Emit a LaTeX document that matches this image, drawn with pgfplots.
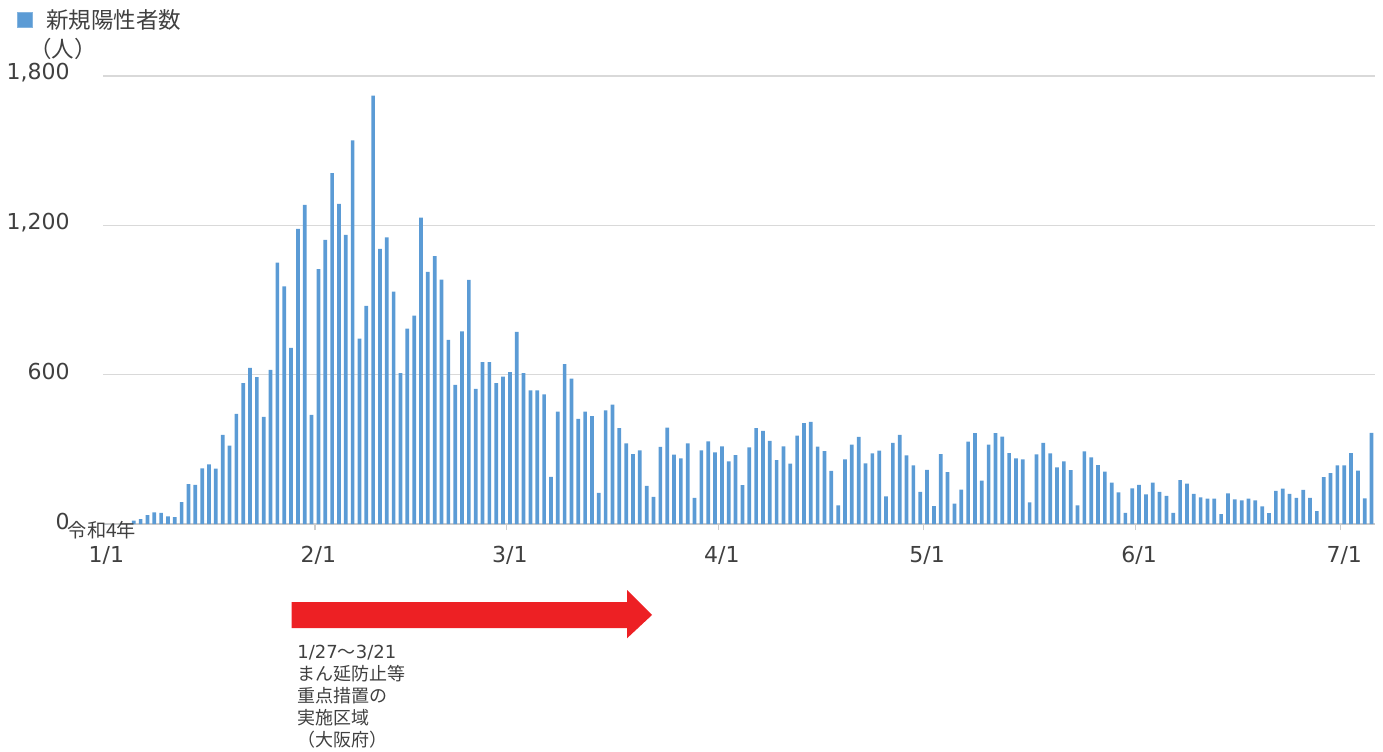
\documentclass[border=0pt]{standalone}
\usepackage{pgfplots}
\pgfplotsset{compat=1.18}
\usepackage{pgfplotstable}
\usepackage{fontspec}
\setmainfont{DejaVu Sans}
\newfontfamily\cjk{Noto Sans CJK JP}
\definecolor{barblue}{RGB}{91,155,213}
\definecolor{gridgray}{RGB}{217,217,217}
\definecolor{axisgray}{RGB}{204,204,204}
\definecolor{arrowred}{RGB}{237,32,36}
\definecolor{txt}{RGB}{64,64,64}

\pgfplotstableread{
d v
0 0
1 0
2 0
3 0
4 14
5 20
6 36
7 47
8 45
9 31
10 28
11 88
12 160
13 157
14 224
15 240
16 222
17 358
18 315
19 442
20 566
21 627
22 590
23 430
24 619
25 1050
26 955
27 708
28 1186
29 1282
30 438
31 1024
32 1142
33 1410
34 1286
35 1162
36 1541
37 745
38 876
39 1721
40 1105
41 1152
42 934
43 606
44 785
45 837
46 1231
47 1013
48 1076
49 982
50 740
51 559
52 774
53 981
54 543
55 650
56 650
57 566
58 592
59 610
60 772
61 606
62 537
63 537
64 521
65 189
66 452
67 642
68 584
69 422
70 452
71 433
72 125
73 457
74 480
75 385
76 324
77 281
78 296
79 153
80 109
81 310
82 387
83 279
84 264
85 324
86 105
87 296
88 332
89 288
90 312
91 252
92 277
93 156
94 308
95 385
96 374
97 334
98 257
99 312
100 243
101 355
102 405
103 410
104 311
105 293
106 213
107 75
108 260
109 319
110 350
111 244
112 284
113 295
114 111
115 326
116 358
117 276
118 236
119 129
120 217
121 72
122 281
123 208
124 82
125 138
126 331
127 365
128 174
129 319
130 365
131 351
132 285
133 264
134 260
135 87
136 280
137 326
138 284
139 228
140 252
141 216
142 75
143 292
144 268
145 237
146 210
147 166
148 127
149 45
150 143
151 157
152 119
153 166
154 129
155 113
156 45
157 176
158 162
159 121
160 107
161 102
162 102
163 40
164 123
165 99
166 95
167 102
168 95
169 71
170 44
171 133
172 142
173 121
174 105
175 137
176 105
177 52
178 188
179 204
180 236
181 236
182 285
183 214
184 103
185 366
}\cases

\begin{document}
\begin{tikzpicture}
\useasboundingbox (0,0) rectangle (691.5pt,375.5pt);
\begin{axis}[
  at={(51.5pt,113.5pt)}, anchor=south west,
  scale only axis, width=636pt, height=224pt,
  xmin=-0.5, xmax=185.5, ymin=0, ymax=1800,
  ybar, bar width=0.54,
  axis line style={draw=none},
  ytick={600,1200,1800},
  extra y ticks={0},
  extra y tick style={grid=major, grid style={color=axisgray, line width=0.8pt}},
  ymajorgrids, grid style={color=gridgray, line width=0.75pt},
  major tick length=0pt,
  xtick={0,31,59,90,120,151,181},
  xticklabels={1/1,2/1,3/1,4/1,5/1,6/1,7/1},
  extra x ticks={30.5,58.5,89.5,119.5,150.5,180.5},
  extra x tick labels={},
  extra x tick style={grid=none, major tick length=3pt, tick align=outside,
     major tick style={color=axisgray, line width=0.6pt}},
  xtick pos=bottom, ytick pos=left,
  scaled y ticks=false,
  /pgf/number format/.cd, 1000 sep={,}, assume math mode=true,
  /pgfplots/.cd,
  tick label style={font=\fontsize{11}{13}\selectfont, text=txt},
  yticklabel style={anchor=east, inner sep=0pt, xshift=-16.5pt, yshift=1.5pt},
  xticklabel style={anchor=north, inner sep=0pt, yshift=-11pt},
  legend style={at={(-0.0676,1.1239)}, anchor=west, draw=none, fill=none,
     inner sep=0pt, outer sep=0pt, nodes={inner sep=0pt, text=txt},
     font=\cjk\fontsize{11.25}{13}\selectfont,
     /tikz/every odd column/.style={column sep=6.5pt}},
  legend image code/.code={\draw[fill=barblue, draw=barblue!75!white, line width=0.5pt] (0pt,-3.75pt) rectangle (7.5pt,3.75pt);},
]
\addplot[fill=barblue, draw=none] table[x=d, y=v] {\cases};
\addlegendentry{新規陽性者数}
\end{axis}
\begin{scope}[shift={(0pt,375.5pt)}, x=0.5pt, y=-0.5pt]
  \node[font=\cjk\fontsize{11.25}{13}\selectfont, text=txt, inner sep=0pt] at (63,49) {（人）};
  \node[font=\cjk\fontsize{9.6}{11}\selectfont, text=txt, inner sep=0pt] at (102,530) {令和4年};
  \fill[arrowred] (291.7,602) -- (627,602) -- (627,590) -- (652,615) -- (627,638.3) -- (627,628) -- (291.7,628) -- cycle;
  \node[anchor=base west, inner sep=0pt, font=\fontsize{9}{11}\selectfont, text=txt] at (297,658.3) {1/27{\cjk ～}3/21};
  \node[anchor=base west, inner sep=0pt, font=\cjk\fontsize{9}{11}\selectfont, text=txt] at (297,680.3) {まん延防止等};
  \node[anchor=base west, inner sep=0pt, font=\cjk\fontsize{9}{11}\selectfont, text=txt] at (297,702.3) {重点措置の};
  \node[anchor=base west, inner sep=0pt, font=\cjk\fontsize{9}{11}\selectfont, text=txt] at (297,724.3) {実施区域};
  \node[anchor=base west, inner sep=0pt, font=\cjk\fontsize{9}{11}\selectfont, text=txt] at (297,746.3) {（大阪府）};
\end{scope}
\end{tikzpicture}
\end{document}
